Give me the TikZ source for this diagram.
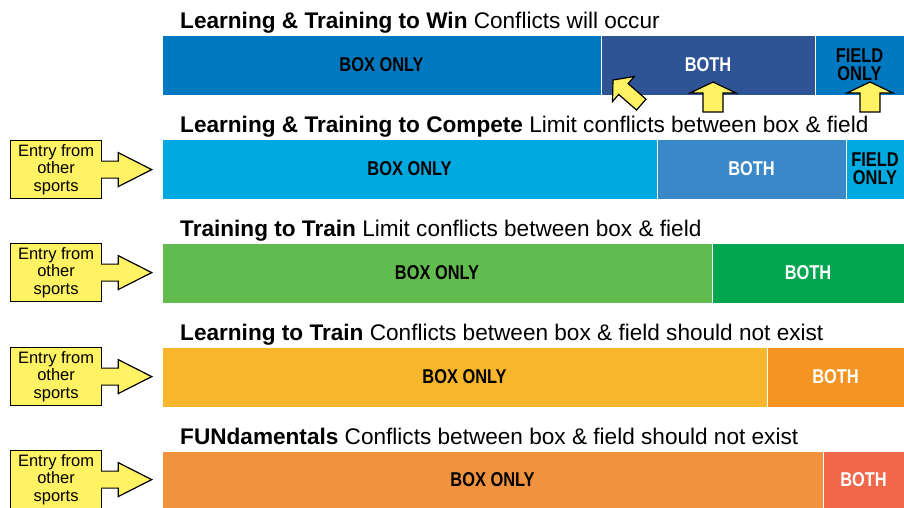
\documentclass[tikz,border=0pt]{standalone}
\usepackage{fontspec}
\setmainfont{Liberation Sans}
\newfontfamily\titlefont{Liberation Sans}
\newfontfamily\barfont[FakeStretch=0.82]{Liberation Sans}
\usetikzlibrary{positioning}

\definecolor{winblue}{HTML}{0079C1}
\definecolor{winboth}{HTML}{2F5496}
\definecolor{compblue}{HTML}{00A9E0}
\definecolor{compboth}{HTML}{3B88C8}
\definecolor{traingreen}{HTML}{62BB4F}
\definecolor{trainboth}{HTML}{00A650}
\definecolor{learnyellow}{HTML}{F8B62D}
\definecolor{learnboth}{HTML}{F49422}
\definecolor{fundorange}{HTML}{F0923E}
\definecolor{fundboth}{HTML}{F0674A}
\definecolor{entryyellow}{HTML}{FFF263}

\tikzset{
  seg/.style={draw=white, line width=0.8pt, inner sep=0pt, outer sep=0pt,
    minimum height=60pt, align=center,
    font=\barfont\bfseries\fontsize{20}{18}\selectfont},
  bothseg/.style={seg, text=white},
  rowtitle/.style={anchor=base west, inner sep=0pt,
    font=\titlefont\fontsize{22.6}{26}\selectfont},
  entry/.style={draw=black, line width=1.2pt, fill=entryyellow, inner sep=0pt,
    minimum width=91pt, minimum height=58pt, anchor=north west, align=center,
    font=\fontsize{16.5}{17.5}\selectfont},
  callout/.style={draw=black, line width=1.2pt, fill=entryyellow, line join=miter},
  uparrow/.pic={\filldraw[callout] (0pt,0pt) -- (-23pt,-11pt) -- (-10pt,-11pt)
    -- (-10pt,-30pt) -- (10pt,-30pt) -- (10pt,-11pt) -- (23pt,-11pt) -- cycle;},
  entryarrow/.style={callout}
}

\begin{document}
\begin{tikzpicture}[x=1pt,y=-1pt]
\useasboundingbox[fill=white] (0,0) rectangle (904,507);

\node[rowtitle] (wintitle) at (180,28) {\textbf{Learning \& Training to Win} Conflicts will occur};
\node[seg,fill=winblue,minimum width=439pt,anchor=north west] (winbox) at (162,35) {BOX ONLY};
\node[bothseg,fill=winboth,minimum width=214pt,right=0pt of winbox] (winboth) {BOTH};
\node[seg,fill=winblue,minimum width=89pt,right=0pt of winboth] (winfield) {FIELD\\ONLY};

\node[rowtitle] (comptitle) at (180,132) {\textbf{Learning \& Training to Compete} Limit conflicts between box \& field};
\node[seg,fill=compblue,minimum width=495pt,anchor=north west] (compbox) at (162,139) {BOX ONLY};
\node[bothseg,fill=compboth,minimum width=189pt,right=0pt of compbox] (compboth) {BOTH};
\node[seg,fill=compblue,minimum width=58pt,right=0pt of compboth] (compfield) {FIELD\\ONLY};

\node[rowtitle] (traintitle) at (180,236) {\textbf{Training to Train} Limit conflicts between box \& field};
\node[seg,fill=traingreen,minimum width=550pt,anchor=north west] (trainbox) at (162,243) {BOX ONLY};
\node[bothseg,fill=trainboth,minimum width=192pt,right=0pt of trainbox] (trainboth) {BOTH};

\node[rowtitle] (learntitle) at (180,340) {\textbf{Learning to Train} Conflicts between box \& field should not exist};
\node[seg,fill=learnyellow,minimum width=605pt,anchor=north west] (learnbox) at (162,347) {BOX ONLY};
\node[bothseg,fill=learnboth,minimum width=137pt,right=0pt of learnbox] (learnboth) {BOTH};

\node[rowtitle] (fundtitle) at (180,444) {\textbf{FUNdamentals} Conflicts between box \& field should not exist};
\node[seg,fill=fundorange,minimum width=661pt,minimum height=57pt,anchor=north west] (fundbox) at (162,451) {BOX ONLY};
\node[bothseg,fill=fundboth,minimum width=81pt,minimum height=57pt,right=0pt of fundbox] (fundboth) {BOTH};

\node[entry] (entrycomp) at (10,140) {Entry from\\other\\sports};
\node[entry] (entrytrain) at (10,243) {Entry from\\other\\sports};
\node[entry] (entrylearn) at (10,347) {Entry from\\other\\sports};
\node[entry] (entryfund) at (10,450) {Entry from\\other\\sports};

\filldraw[entryarrow] ([shift={(-1pt,8.5pt)}]entrycomp.east) -- ++(17pt,0pt) -- ++(0pt,8.5pt)
  -- ++(33.5pt,-17pt) -- ++(-33.5pt,-17pt) -- ++(0pt,8.5pt) -- ++(-17pt,0pt);
\filldraw[entryarrow] ([shift={(-1pt,8.5pt)}]entrytrain.east) -- ++(17pt,0pt) -- ++(0pt,8.5pt)
  -- ++(33.5pt,-17pt) -- ++(-33.5pt,-17pt) -- ++(0pt,8.5pt) -- ++(-17pt,0pt);
\filldraw[entryarrow] ([shift={(-1pt,8.5pt)}]entrylearn.east) -- ++(17pt,0pt) -- ++(0pt,8.5pt)
  -- ++(33.5pt,-17pt) -- ++(-33.5pt,-17pt) -- ++(0pt,8.5pt) -- ++(-17pt,0pt);
\filldraw[entryarrow] ([shift={(-1pt,8.5pt)}]entryfund.east) -- ++(17pt,0pt) -- ++(0pt,8.5pt)
  -- ++(33.5pt,-17pt) -- ++(-33.5pt,-17pt) -- ++(0pt,8.5pt) -- ++(-17pt,0pt);

\pic at (713,82) {uparrow};
\pic at (870,82) {uparrow};
\pic[rotate=49,xscale=0.72,yscale=1.25] at (613,80) {uparrow};
\end{tikzpicture}
\end{document}
